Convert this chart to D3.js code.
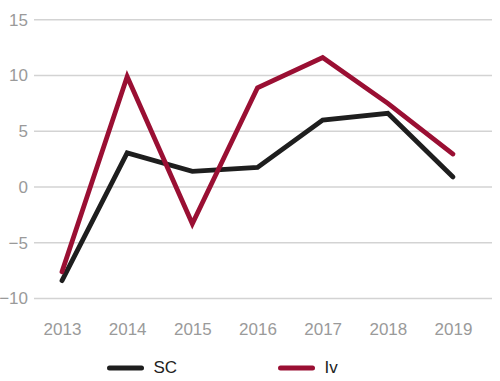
<!DOCTYPE html>
<html><head><meta charset="utf-8">
<script src="https://cdn.jsdelivr.net/npm/d3@7"></script>
<style>body{margin:0;background:#fff;font-family:Arial,"Liberation Sans",sans-serif}</style>
</head><body><svg id="c" width="500" height="381"></svg>
<script>
const years = ["2013","2014","2015","2016","2017","2018","2019"];
const scValues = [-8.4, 3.05, 1.4, 1.75, 6.0, 6.6, 0.9];
const ivValues = [-7.6, 9.9, -3.3, 8.9, 11.6, 7.5, 2.95];
const yTicks = [-10, -5, 0, 5, 10, 15];
const seriesNames = ["SC", "Iv"];
const seriesColors = ["#1e1e1e", "#9a0f33"];

const svg = d3.select("#c");
const x = d3.scalePoint().domain(years).range([62, 453]);
const y = d3.scaleLinear().domain([-10, 15]).range([298.5, 19.7]);

const grid = svg.append("g");
grid.selectAll("line").data(yTicks).join("line")
  .attr("x1", 34).attr("x2", 492)
  .attr("y1", d => y(d)).attr("y2", d => y(d))
  .attr("stroke", "#d3d3d3").attr("stroke-width", 1.5);

const yAxis = svg.append("g").attr("transform", "translate(28,0)")
  .call(d3.axisLeft(y).tickValues(yTicks).tickSize(0).tickPadding(0).tickFormat(d3.format("d")));
yAxis.select(".domain").remove();
yAxis.selectAll("text").attr("fill", "#9a9a9a").style("font-size", "17px").style("font-family", "Arial, 'Liberation Sans', sans-serif");

const xAxis = svg.append("g").attr("transform", "translate(0,320)")
  .call(d3.axisBottom(x).tickSize(0).tickPadding(3));
xAxis.select(".domain").remove();
xAxis.selectAll("text").attr("fill", "#9a9a9a").style("font-size", "17px").style("font-family", "Arial, 'Liberation Sans', sans-serif");

const line = d3.line().x((d, i) => x(years[i])).y(d => y(d));
const data = [scValues, ivValues];
svg.selectAll("path.s").data(data).join("path").attr("class", "s")
  .attr("d", line).attr("fill", "none")
  .attr("stroke", (d, i) => seriesColors[i]).attr("stroke-width", 4.8)
  .attr("stroke-linejoin", "miter").attr("stroke-linecap", "round");

const legX = [109.5, 280.5];
const leg = svg.selectAll("g.leg").data(seriesNames).join("g").attr("class", "leg")
  .attr("transform", (d, i) => `translate(${legX[i]},368)`);
leg.append("line").attr("x1", 0).attr("x2", 32).attr("y1", 0).attr("y2", 0)
  .attr("stroke", (d, i) => seriesColors[i]).attr("stroke-width", 5).attr("stroke-linecap", "round");
leg.append("text").attr("x", 44).attr("y", 4.5).text(d => d)
  .attr("fill", "#222").style("font-size", "17px");
</script></body></html>
